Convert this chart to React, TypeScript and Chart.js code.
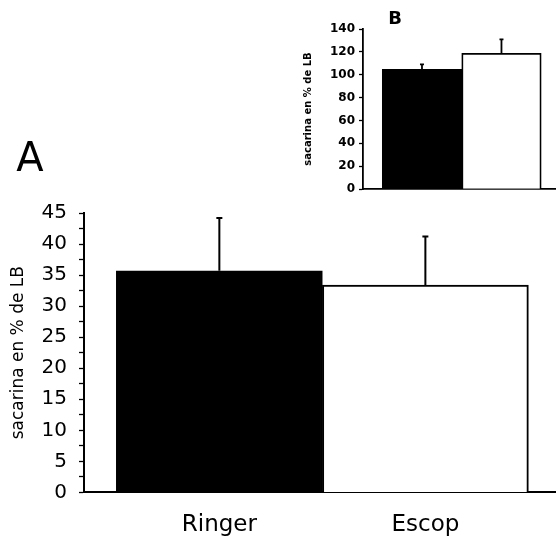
import React, { useEffect, useRef } from 'react';
import { Chart, registerables } from 'chart.js';

Chart.register(...registerables);

// ---- Data ----
const categories = ['Ringer', 'Escop'];
const mainValues = [35.7, 33.4];
const mainErrors = [8.5, 7.8];
const insetValues = [104.7, 118.7];
const insetErrors = [4.4, 12.3];
const barColors = ['#000000', '#ffffff'];
const yTitle = 'sacarina en % de LB';
const mainPanel = 'A';
const insetPanel = 'B';
const mainYMax = 45;
const mainYStep = 5;
const insetYMax = 140;
const insetYStep = 20;

const FONT = '"DejaVu Sans", sans-serif';

const errorBarPlugin = {
  id: 'errorBars',
  afterDatasetsDraw(chart: any, _args: any, opts: any) {
    const ctx = chart.ctx;
    const yScale = chart.scales.y;
    chart.data.datasets.forEach((ds: any, di: number) => {
      const meta = chart.getDatasetMeta(di);
      const errs: number[] = ds.errors || [];
      meta.data.forEach((el: any, i: number) => {
        const v = ds.data[i].y;
        const e = errs[i];
        if (e == null) return;
        const x = el.x;
        const y0 = yScale.getPixelForValue(v);
        const y1 = yScale.getPixelForValue(v + e);
        ctx.save();
        ctx.strokeStyle = '#000';
        ctx.lineWidth = opts.lineWidth || 1.5;
        ctx.beginPath();
        ctx.moveTo(x, y0);
        ctx.lineTo(x, y1);
        ctx.moveTo(x - (opts.cap || 3), y1);
        ctx.lineTo(x + (opts.cap || 3), y1);
        ctx.stroke();
        ctx.restore();
      });
    });
  },
};

const panelLabelPlugin = {
  id: 'panelLabel',
  afterDraw(chart: any, _args: any, opts: any) {
    if (!opts || !opts.text) return;
    const ctx = chart.ctx;
    ctx.save();
    ctx.fillStyle = '#000';
    ctx.font = opts.font;
    ctx.textAlign = 'center';
    ctx.textBaseline = 'middle';
    ctx.fillText(opts.text, opts.x, opts.y);
    ctx.restore();
  },
};

function makeConfig(p: {
  values: number[];
  errors: number[];
  xMin: number;
  xMax: number;
  yMax: number;
  yStep: number;
  minorStep: number;
  showX: boolean;
  yWidth: number;
  padding: any;
  tickFont: any;
  tickPadding: number;
  tickLength: number;
  titleFont: any;
  titlePadTop: number;
  xFont: any;
  xPadding: number;
  cap: number;
  lw: number;
  panel: any;
}) {
  return {
    type: 'bar' as const,
    data: {
      datasets: [
        {
          data: p.values.map((v, i) => ({ x: i + 1, y: v })),
          errors: p.errors,
          backgroundColor: barColors,
          borderColor: '#000',
          borderWidth: p.lw,
          barPercentage: 1,
          categoryPercentage: 1,
        } as any,
      ],
    },
    options: {
      animation: false,
      responsive: false,
      maintainAspectRatio: false,
      layout: { padding: p.padding },
      plugins: {
        legend: { display: false },
        tooltip: { enabled: false },
        title: { display: false },
        errorBars: { lineWidth: p.lw, cap: p.cap },
        panelLabel: p.panel,
      },
      scales: {
        x: {
          type: 'linear',
          offset: false,
          min: p.xMin,
          max: p.xMax,
          afterBuildTicks: (scale: any) => {
            scale.ticks = categories.map((_, i) => ({ value: i + 1 }));
          },
          grid: { display: false, drawTicks: false, offset: false },
          border: { display: true, color: '#000', width: p.lw },
          ticks: {
            display: p.showX,
            autoSkip: false,
            maxRotation: 0,
            padding: p.xPadding,
            color: '#000',
            font: p.xFont,
            callback: (v: any) => categories[Math.round(v) - 1] ?? '',
          },
        },
        y: {
          min: 0,
          max: p.yMax,
          afterFit: (scale: any) => {
            scale.width = p.yWidth;
          },
          grid: {
            drawOnChartArea: false,
            drawTicks: true,
            tickLength: p.tickLength,
            tickColor: '#000',
            tickWidth: 1.3,
          },
          border: { display: true, color: '#000', width: p.lw },
          ticks: {
            stepSize: p.minorStep,
            autoSkip: false,
            padding: p.tickPadding,
            color: '#000',
            font: p.tickFont,
            callback: (v: any) => {
              const n = Number(v);
              return Math.abs(n / p.yStep - Math.round(n / p.yStep)) < 1e-6 ? String(Math.round(n)) : '';
            },
          },
          title: {
            display: true,
            text: yTitle,
            color: '#000',
            font: p.titleFont,
            padding: { top: p.titlePadTop, bottom: 0 },
          },
        },
      },
    },
    plugins: [errorBarPlugin, panelLabelPlugin],
  };
}

export default function App() {
  const mainRef = useRef<HTMLCanvasElement>(null);
  const insetRef = useRef<HTMLCanvasElement>(null);

  useEffect(() => {
    const main = new Chart(
      mainRef.current!,
      makeConfig({
        values: mainValues,
        errors: mainErrors,
        xMin: 0.343,
        xMax: 2.634,
        yMax: mainYMax,
        yStep: mainYStep,
        minorStep: mainYStep / 2,
        showX: true,
        yWidth: 80,
        padding: { left: 4, top: 213, right: 0, bottom: -21 },
        tickFont: { family: FONT, size: 20 },
        tickPadding: 12,
        tickLength: 5,
        titleFont: { family: FONT, size: 17 },
        titlePadTop: 4,
        xFont: { family: FONT, size: 23 },
        xPadding: 19,
        cap: 3,
        lw: 2,
        panel: { text: mainPanel, x: 30, y: 161, font: '40px ' + FONT },
      }) as any
    );
    const inset = new Chart(
      insetRef.current!,
      makeConfig({
        values: insetValues,
        errors: insetErrors,
        xMin: 0.258,
        xMax: 2.686,
        yMax: insetYMax,
        yStep: insetYStep,
        minorStep: insetYStep,
        showX: false,
        yWidth: 65,
        padding: { left: 2, top: 29, right: 0, bottom: 16 },
        tickFont: { family: FONT, size: 12, weight: 'bold' },
        tickPadding: 4,
        tickLength: 4,
        titleFont: { family: FONT, size: 10, weight: 'bold' },
        titlePadTop: 4,
        xFont: { family: FONT, size: 12 },
        xPadding: 0,
        cap: 2,
        lw: 1.8,
        panel: { text: insetPanel, x: 99, y: 19, font: 'bold 18px ' + FONT },
      }) as any
    );
    return () => {
      main.destroy();
      inset.destroy();
    };
  }, []);

  return (
    <div style={{ position: 'fixed', left: 0, top: 0, width: 556, height: 537, background: '#fff', overflow: 'hidden' }}>
      <canvas ref={mainRef} width={556} height={537} style={{ position: 'absolute', left: 0, top: 0 }} />
      <canvas ref={insetRef} width={260} height={205} style={{ position: 'absolute', left: 296, top: 0 }} />
    </div>
  );
}
